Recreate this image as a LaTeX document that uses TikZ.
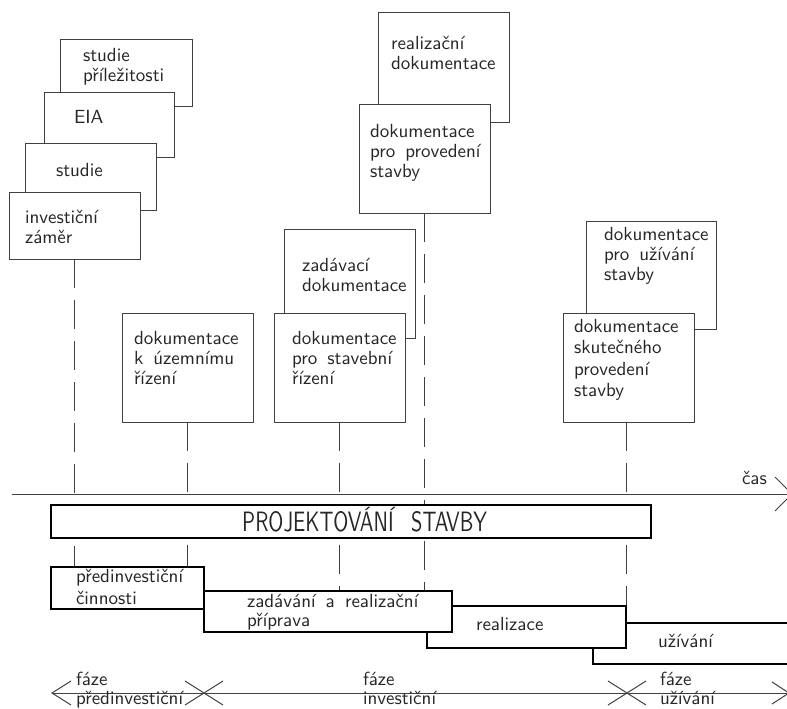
\documentclass[tikz,border=0pt]{standalone}
\usepackage{fontspec}
\setmainfont{lmsans10-regular.otf}[WordSpace=1.6]
\usepackage{graphicx}
\definecolor{linec}{gray}{0.25}
\definecolor{textc}{gray}{0.15}
\pgfdeclarelayer{bg}
\pgfsetlayers{bg,main}
\newcommand\myfs[1]{\fontsize{19}{#1}\selectfont}
\newcommand\mystrut{\rule{0pt}{14.2pt}}
\begin{document}
\begin{tikzpicture}[x=1pt,y=-1pt,
  doc/.style={draw=linec, line width=1pt, fill=white, rectangle, inner sep=0pt, outer sep=0pt, anchor=north west},
  bar/.style={draw=black, line width=2.8pt, fill=white, rectangle, inner sep=0pt, outer sep=0pt, anchor=north west},
  txt/.style={anchor=north west, inner sep=0pt, outer sep=0pt, align=left, text=textc, font=\myfs{20}},
  guide/.style={draw=linec, line width=1pt, dash pattern=on 29pt off 12pt},
  thin/.style={draw=linec, line width=1pt}]
\useasboundingbox (0,0) rectangle (787,709);

% documentation boxes (back first)
\node[doc, minimum width=132pt, minimum height=66pt] (A) at (60,40) {};
\node[doc, minimum width=130pt, minimum height=65pt] (B) at (44,92) {};
\node[doc, minimum width=131pt, minimum height=67pt] (C) at (25,143) {};
\node[doc, minimum width=131pt, minimum height=67pt] (D) at (9,192) {};
\node[doc, minimum width=131pt, minimum height=109pt] (E) at (378,13) {};
\node[doc, minimum width=131pt, minimum height=109pt] (F) at (359,104) {};
\node[doc, minimum width=131pt, minimum height=109pt] (G) at (284,229) {};
\node[doc, minimum width=131pt, minimum height=109pt] (H) at (274,313) {};
\node[doc, minimum width=131pt, minimum height=109pt] (I) at (122,313) {};
\node[doc, minimum width=130pt, minimum height=108pt] (J) at (586,221) {};
\node[doc, minimum width=131pt, minimum height=109pt] (K) at (563,313) {};

\node[txt] (tA) at (83,47) {\mystrut studie\\příležitosti};
\node[txt] (tB) at (74,109) {\mystrut EIA};
\node[txt] (tC) at (56,162) {\mystrut studie};
\node[txt] (tD) at (25,209) {\mystrut investiční\\záměr};
\node[txt] (tE) at (391,35) {\mystrut realizační\\dokumentace};
\node[txt] (tF) at (370,123) {\mystrut dokumentace\\pro provedení\\stavby};
\node[txt] (tG) at (302,257) {\mystrut zadávací\\dokumentace};
\node[txt] (tI) at (134,330) {\mystrut dokumentace\\k územnímu\\řízení};
\node[txt] (tH) at (292,330) {\mystrut dokumentace\\pro stavební\\řízení};
\node[txt] (tJ) at (604,226) {\mystrut dokumentace\\pro užívání\\stavby};
\node[txt, font=\myfs{21.5}] (tK) at (574,318) {\mystrut dokumentace\\skutečného\\provedení\\stavby};

% phase bars
\node[bar, minimum width=600pt, minimum height=33pt] (proj) at (51,505) {};
\node[bar, minimum width=210pt, minimum height=41pt] (uzi) at (593,623) {};
\node[bar, minimum width=199pt, minimum height=42pt] (rea) at (427,606) {};
\node[bar, minimum width=248pt, minimum height=41pt] (zad) at (204,591) {};
\node[bar, minimum width=153pt, minimum height=42pt] (pre) at (51,567) {};

\node[anchor=base west, inner sep=0pt, text=textc] (tproj) at (242,531)
  {\scalebox{0.73}[1]{\fontsize{28}{30}\selectfont PROJEKTOVÁNÍ\hspace{24pt}STAVBY}};
\node[txt, font=\myfs{22}] (tpre) at (76,568) {\mystrut předinvestiční\\činnosti};
\node[txt, font=\myfs{19}] (tzad) at (247,593) {\mystrut zadávání a realizační\\příprava};
\node[txt] (trea) at (476,616) {\mystrut realizace};
\node[txt] (tuzi) at (658,633) {\mystrut užívání};

% guide lines
\begin{pgfonlayer}{bg}
\draw[guide] (D.south) -- (D.south |- pre.north);
\draw[guide] (I.south) -- (I.south |- pre.north);
\draw[guide] (H.south) -- (H.south |- zad.north);
\draw[guide] (F.south) -- (F.south |- zad.north);
\draw[guide] (K.south -| rea.north east) -- (rea.north east);
\end{pgfonlayer}

% time axis
\coordinate (ax0) at (12,494);
\coordinate (ax1) at (792,494);
\draw[thin] (ax0) -- (ax1);
\draw[thin] (ax1) ++(-17,-17) -- (ax1) -- ++(-17,17);
\node[txt] (tcas) at (742,470) {\mystrut čas};

% phase dimension line
\coordinate (p0) at (52,693);
\coordinate (p1) at (204,693);
\coordinate (p2) at (627,693);
\coordinate (p3) at (789,693);
\draw[thin] (p0) -- (p3);
\draw[thin] (p0) ++(19,-12) -- (p0) -- ++(19,12);
\draw[thin] (p1) ++(-19,-12) -- ++(38,24);
\draw[thin] (p1) ++(-19,12) -- ++(38,-24);
\draw[thin] (p2) ++(-19,-12) -- ++(38,24);
\draw[thin] (p2) ++(-19,12) -- ++(38,-24);
\draw[thin] (p3) ++(-17,-11) -- (p3) -- ++(-17,11);
\node[txt, font=\myfs{19}] (tf1) at (76,671) {\mystrut fáze\\předinvestiční};
\node[txt, font=\myfs{19}] (tf2) at (363,671) {\mystrut fáze\\investiční};
\node[txt, font=\myfs{19}] (tf3) at (660,671) {\mystrut fáze\\užívání};
\end{tikzpicture}
\end{document}
